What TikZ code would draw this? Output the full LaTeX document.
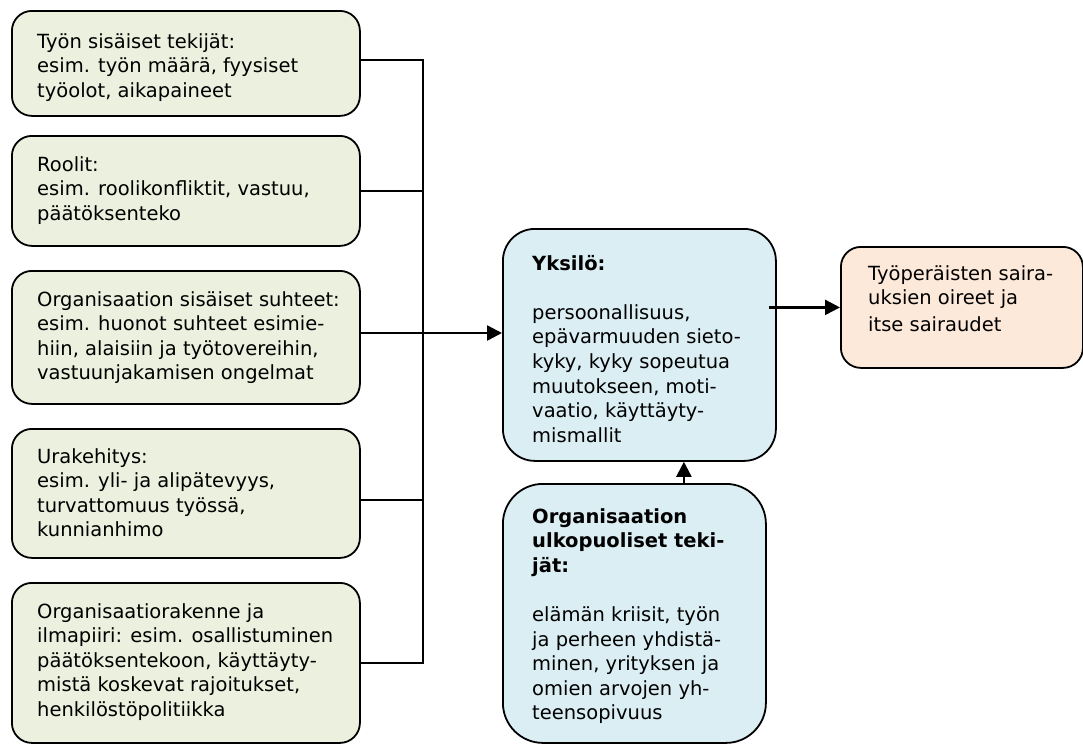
\documentclass[tikz,border=0pt]{standalone}
\usepackage{fontspec}
\setmainfont{DejaVu Sans}
\usetikzlibrary{arrows.meta}
\definecolor{boxgreen}{HTML}{EBF1DE}
\definecolor{boxblue}{HTML}{DBEEF4}
\definecolor{boxorange}{HTML}{FDE9D9}
\newcommand{\bodyfont}{\fontsize{19.5}{24.6}\selectfont}
\tikzset{
  panel/.style={draw=black, line width=1.8pt, anchor=north west, inner sep=0pt},
  greenbox/.style={panel, fill=boxgreen, rounded corners=20pt},
  bluebox/.style={panel, fill=boxblue},
  orangebox/.style={panel, fill=boxorange, rounded corners=20pt},
  label/.style={anchor=base west, inner sep=0pt, font=\bodyfont},
  wire/.style={line width=2pt},
  flow/.style={line width=2.4pt, -{Triangle[length=15pt,width=15pt]}},
}
\begin{document}
\begin{tikzpicture}[x=1pt, y=-1pt]
\useasboundingbox (0,0) rectangle (1083,744);

% sources of stress inside the organisation
\node[greenbox, minimum width=348pt, minimum height=105pt] (b1) at (11,10) {};
\node[greenbox, minimum width=348pt, minimum height=110pt] (b2) at (11,135) {};
\node[greenbox, minimum width=348pt, minimum height=133pt] (b3) at (11,270) {};
\node[greenbox, minimum width=348pt, minimum height=129pt] (b4) at (11,428) {};
\node[greenbox, minimum width=348pt, minimum height=160pt] (b5) at (11,582) {};

\node[label] (t1) at (37,48) {\parbox[t]{318pt}{\raggedright
  Työn sisäiset tekijät:\\esim. työn määrä, fyysiset\\työolot, aikapaineet}};
\node[label] (t2) at (37,171) {\parbox[t]{318pt}{\raggedright
  Roolit:\\esim. roolikonfliktit, vastuu,\\päätöksenteko}};
\node[label] (t3) at (37,306) {\parbox[t]{318pt}{\raggedright
  Organisaation sisäiset suhteet:\\esim. huonot suhteet esimie-\\hiin, alaisiin ja työtovereihin,\\vastuunjakamisen ongelmat}};
\node[label] (t4) at (37,463) {\parbox[t]{318pt}{\raggedright
  Urakehitys:\\esim. yli- ja alipätevyys,\\turvattomuus työssä,\\kunnianhimo}};
\node[label] (t5) at (37,618) {\parbox[t]{318pt}{\raggedright
  Organisaatiorakenne ja\\ilmapiiri: esim. osallistuminen\\päätöksentekoon, käyttäyty-\\mistä koskevat rajoitukset,\\henkilöstöpolitiikka}};

% the individual and factors outside the organisation
\node[bluebox, rounded corners=32pt, minimum width=273pt, minimum height=232pt] (yk) at (502,228) {};
\node[label] (tyk) at (532,270) {\parbox[t]{236pt}{\raggedright
  \textbf{Yksilö:}\\[24.6pt]persoonallisuus,\\epävarmuuden sieto-\\kyky, kyky sopeutua\\muutokseen, moti-\\vaatio, käyttäyty-\\mismallit}};

\node[bluebox, rounded corners=40pt, minimum width=263pt, minimum height=259pt] (ok) at (502,483) {};
\node[label] (tok) at (532,523) {\parbox[t]{228pt}{\raggedright
  \textbf{Organisaation}\\\textbf{ulkopuoliset teki-}\\\textbf{jät:}\\[24.6pt]elämän kriisit, työn\\ja perheen yhdistä-\\minen, yrityksen ja\\omien arvojen yh-\\teensopivuus}};

% outcome
\node[orangebox, minimum width=242pt, minimum height=121pt] (oc) at (840,246) {};
\node[label] (toc) at (868,280) {\parbox[t]{210pt}{\raggedright
  Työperäisten saira-\\uksien oireet ja\\[2pt]itse sairaudet}};

% collecting bus on the left
\coordinate (bus) at (423,400);
\draw[wire] (b1.east |- 0,60) -| (bus) |- (b5.east);
\draw[wire] (b2.east) -- (b2.east -| bus);
\draw[wire] (b4.east |- 0,500) -- (bus |- 0,500);
\draw[flow] (b3.east |- 0,333) -- (yk.west |- 0,333);

% arrows into the individual and on to the outcome
\draw[flow] ([xshift=-8pt]yk.east |- oc.west) -- (oc.west);
\draw[flow] ([xshift=49.5pt]ok.north) -- ([xshift=49.5pt]ok.north |- yk.south);
\end{tikzpicture}
\end{document}
